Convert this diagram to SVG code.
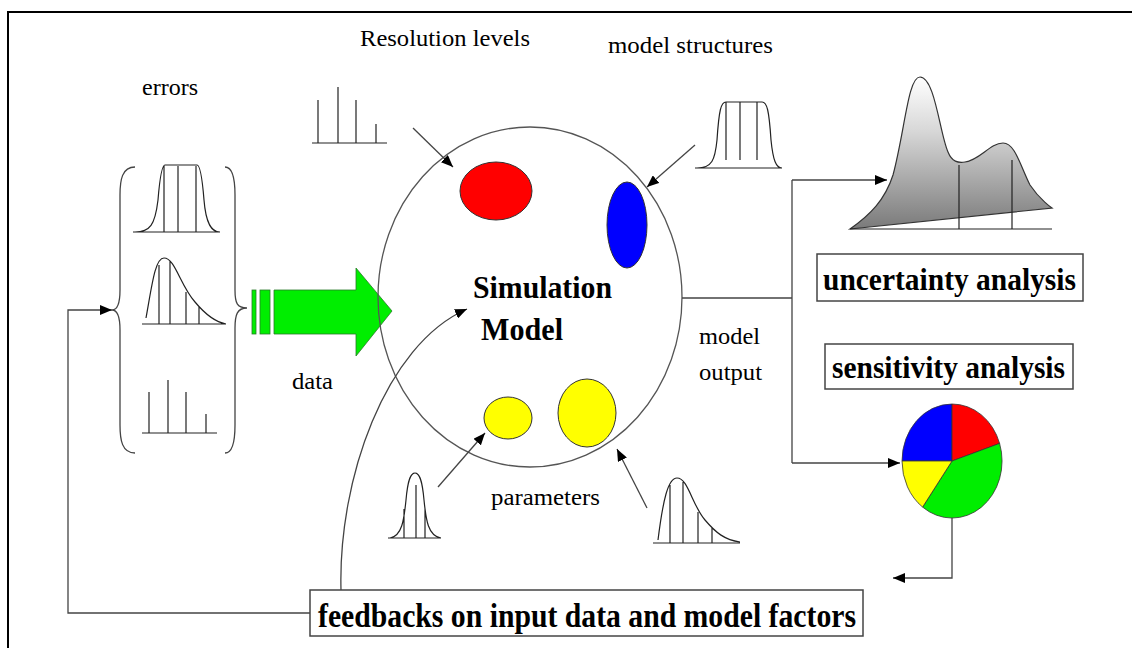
<svg xmlns="http://www.w3.org/2000/svg" width="1132" height="648" viewBox="0 0 1132 648">
<defs>
<marker id="arr" viewBox="0 0 12 10" refX="12" refY="5" markerWidth="12" markerHeight="10" markerUnits="userSpaceOnUse" orient="auto"><path d="M0,0 L12,5 L0,10 Z" fill="#000"/></marker>
<linearGradient id="gray" x1="0" y1="77" x2="0" y2="229" gradientUnits="userSpaceOnUse"><stop offset="0" stop-color="#ffffff"/><stop offset="0.35" stop-color="#d8d8d8"/><stop offset="1" stop-color="#7a7a7a"/></linearGradient>
<style>
.lbl{font-family:"Liberation Serif","Times New Roman",serif;font-size:23px;fill:#000}
.bold{font-family:"Liberation Serif","Times New Roman",serif;font-weight:bold;font-size:32px;fill:#000}
.big{font-size:34px}
.ln{stroke:#222;stroke-width:1.2;fill:none}
.con{stroke:#444;stroke-width:1.3;fill:none}
.box{fill:#fff;stroke:#444;stroke-width:1.5}
.dist{stroke:#222;stroke-width:1.2;fill:none}
</style>
</defs>
<rect width="1132" height="648" fill="#fff"/>
<path d="M8,648 L8,12 L1132,12" fill="none" stroke="#000" stroke-width="2"/>

<g id="errors">
<text class="lbl" x="142" y="95" textLength="56" lengthAdjust="spacingAndGlyphs">errors</text>
<path class="con" d="M135,167 C122,167 120,180 120,195 L120,290 C120,303 118,310 112,310 C118,310 120,317 120,330 L120,425 C120,440 122,453 135,453"/>
<path class="con" d="M225,167 C233,167 235,180 235,195 L235,290 C235,303 237,308 247,308 C237,308 235,315 235,328 L235,425 C235,440 233,453 225,453"/>
<path class="dist" d="M133,232 L220,232 M135,232 C150,232 155,225 158,200 C160,175 162,165 165,165 L197,165 C200,165 202,175 204,200 C206,225 212,232 220,232 M164,166 V232 M178,166 V232 M196,166 V232"/>
<path class="dist" d="M142,324 L226,324 M146,318 C152,285 155,258 164,258 C175,258 180,285 195,302 C205,314 215,322 226,324 M159,265 V324 M170,261 V324 M186,292 V324 M199,306 V324"/>
<path class="dist" d="M142,433 L217,433 M149,392 V433 M168,380 V433 M186,392 V433 M206,414 V433"/>
</g>

<g id="data">
<rect x="252" y="290" width="4" height="44" fill="#00ee00" stroke="#2a7a2a" stroke-width="0.8"/>
<rect x="260" y="290" width="10" height="44" fill="#00ee00" stroke="#2a7a2a" stroke-width="0.8"/>
<path d="M274,290 L356,290 L356,268 L392,311 L356,356 L356,334 L274,334 Z" fill="#00ee00" stroke="#2a7a2a" stroke-width="0.8"/>
<text class="lbl" x="292" y="389" textLength="41" lengthAdjust="spacingAndGlyphs">data</text>
</g>

<g id="resolution">
<text class="lbl" x="360" y="46" textLength="170" lengthAdjust="spacingAndGlyphs">Resolution levels</text>
<path class="dist" d="M312,143 L387,143 M318,100 V143 M338,87 V143 M356,100 V143 M376,124 V143"/>
</g>

<g id="structures">
<text class="lbl" x="608" y="53" textLength="165" lengthAdjust="spacingAndGlyphs">model structures</text>
<path class="dist" d="M695,168 L782,168 M697,168 C712,168 715,160 717,140 C719,110 721,102 726,102 L762,102 C767,102 769,110 771,140 C773,160 776,168 782,168 M726,102 V160 M740,102 V160 M757,102 V160"/>
</g>

<g id="model">
<ellipse cx="530" cy="297" rx="152" ry="170" fill="none" stroke="#555" stroke-width="1.3"/>
<ellipse cx="496" cy="191" rx="36" ry="29" fill="#ff0000" stroke="#333" stroke-width="1"/>
<ellipse cx="627" cy="225" rx="20" ry="43" fill="#0000ff" stroke="#333" stroke-width="1"/>
<ellipse cx="508" cy="418" rx="24" ry="21" fill="#ffff00" stroke="#333" stroke-width="1"/>
<ellipse cx="587" cy="413" rx="29" ry="34" fill="#ffff00" stroke="#333" stroke-width="1"/>
<text class="bold" x="473" y="298" textLength="139" lengthAdjust="spacingAndGlyphs">Simulation</text>
<text class="bold" x="481" y="340" textLength="82" lengthAdjust="spacingAndGlyphs">Model</text>
</g>

<g id="parameters">
<text class="lbl" x="491" y="505" textLength="109" lengthAdjust="spacingAndGlyphs">parameters</text>
<path class="dist" d="M388,538 L441,538 M390,538 C402,536 404,520 406,500 C408,478 411,473 415,473 C419,473 422,478 424,500 C426,520 428,536 441,538 M404,509 V538 M416,485 V538 M425,509 V538"/>
<path class="dist" d="M653,543 L740,543 M658,540 C663,500 668,478 677,478 C688,478 692,505 705,520 C716,533 725,540 740,542 M670,485 V543 M683,482 V543 M698,512 V543 M712,528 V543"/>
</g>

<g id="output-label">
<text class="lbl" x="699" y="344" textLength="61" lengthAdjust="spacingAndGlyphs">model</text>
<text class="lbl" x="699" y="380" textLength="63" lengthAdjust="spacingAndGlyphs">output</text>
</g>

<g id="uncertainty">
<path d="M850,229 C870,215 885,200 893,175 C905,130 908,77 920,77 C935,77 940,135 948,152 C952,162 958,163 965,162 C980,160 990,143 1003,143 C1015,143 1020,165 1030,185 C1040,200 1052,208 1052,208 L850,229 Z" fill="url(#gray)" stroke="#333" stroke-width="1.2"/>
<path class="dist" d="M850,229 L1052,229 M959,165 V229 M1012,160 V229"/>
<rect class="box" x="817" y="254" width="266" height="47"/>
<text class="bold" x="823" y="290" textLength="253" lengthAdjust="spacingAndGlyphs">uncertainty analysis</text>
</g>

<g id="sensitivity">
<rect class="box" x="825" y="344" width="248" height="45"/>
<text class="bold" x="832" y="378" textLength="233" lengthAdjust="spacingAndGlyphs">sensitivity analysis</text>
<g stroke="#333" stroke-width="0.8">
<path d="M952,461 L902,461 A50,57 0 0 1 952,404 Z" fill="#0000ff"/>
<path d="M952,461 L952,404 A50,57 0 0 1 999.6,443.4 Z" fill="#ff0000"/>
<path d="M952,461 L999.6,443.4 A50,57 0 0 1 922.6,507.1 Z" fill="#00ee00"/>
<path d="M952,461 L922.6,507.1 A50,57 0 0 1 902,461 Z" fill="#ffff00"/>
</g>
</g>

<g id="feedback">
<rect class="box" x="310" y="590" width="553" height="46"/>
<text class="bold big" x="318" y="627" textLength="538" lengthAdjust="spacingAndGlyphs">feedbacks on input data and model factors</text>
</g>

<g id="connectors">
<line class="con" x1="413" y1="128" x2="453" y2="167" marker-end="url(#arr)"/>
<line class="con" x1="695" y1="145" x2="647" y2="187" marker-end="url(#arr)"/>
<line class="con" x1="438" y1="487" x2="485" y2="433" marker-end="url(#arr)"/>
<line class="con" x1="647" y1="508" x2="617" y2="449" marker-end="url(#arr)"/>
<path class="con" d="M682,298 L792,298 M792,180 L792,463"/>
<path class="con" d="M792,180 L887,180" marker-end="url(#arr)"/>
<path class="con" d="M792,463 L900,463" marker-end="url(#arr)"/>
<path class="con" d="M952,518 L952,578 L893,578" marker-end="url(#arr)"/>
<path class="con" d="M310,613 L68,613 L68,310 L112,310" marker-end="url(#arr)"/>
<path class="con" d="M341,590 C338,480 385,345 467,309" marker-end="url(#arr)"/>
</g>
</svg>
